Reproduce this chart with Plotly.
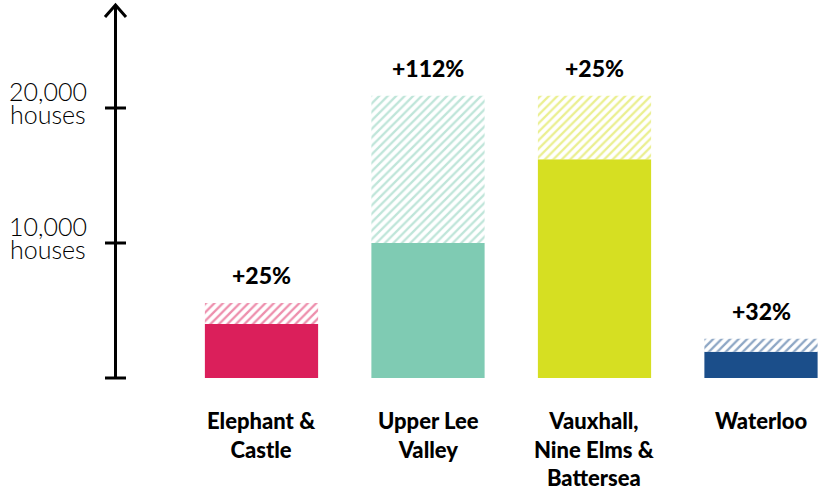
import plotly.graph_objects as go

# ---- data ----
categories = ["Elephant &<br>Castle", "Upper Lee<br>Valley", "Vauxhall,<br>Nine Elms &<br>Battersea", "Waterloo"]
existing = [4000, 10000, 16200, 1950]
projected = [5550, 20900, 20900, 2900]
growth_labels = ["+25%", "+112%", "+25%", "+32%"]
colors = ["#DB1F5B", "#7FCBB3", "#D6DF22", "#1B4E8A"]
ytick_vals = [10000, 20000]
ytick_nums = ["10,000", "20,000"]
ytick_unit = "houses"

W, H = 824, 491
PX_PER_X = 166.5
X0_PX = 261.5
PX_PER_Y = 13.5 / 1000
Y0_PX = 378

def xd(px):
    return (px - X0_PX) / PX_PER_X

def yd(py):
    return (Y0_PX - py) / PX_PER_Y

xs = list(range(len(categories)))
increments = [p - e for p, e in zip(projected, existing)]

fig = go.Figure()
fig.add_trace(go.Bar(
    x=xs, y=existing, width=0.68,
    marker=dict(color=colors, line=dict(width=0)),
    hoverinfo="skip",
))
fig.add_trace(go.Bar(
    x=xs, y=increments, base=existing, width=0.68,
    marker=dict(color="white", line=dict(width=0),
                pattern=dict(shape="/", fgcolor=colors, bgcolor="white",
                             size=6, solidity=0.38, fillmode="overlay")),
    hoverinfo="skip",
))

shapes = []
ax_x = xd(115.5)
# axis line
shapes.append(dict(type="line", xref="x", yref="y", x0=ax_x, x1=ax_x,
                   y0=0, y1=yd(6), line=dict(color="black", width=3)))
# arrow head
shapes.append(dict(type="path", xref="x", yref="y",
                   path=f"M {xd(105)} {yd(17)} L {ax_x} {yd(5)} L {xd(126)} {yd(17)}",
                   line=dict(color="black", width=3)))
# ticks
for v in [0] + ytick_vals:
    shapes.append(dict(type="line", xref="x", yref="y", x0=xd(105), x1=xd(126),
                       y0=v, y1=v, line=dict(color="black", width=3)))

annotations = []
for v, num in zip(ytick_vals, ytick_nums):
    annotations.append(dict(x=xd(48), y=v, xref="x", yref="y", text=num,
                            showarrow=False, yshift=17, xanchor="center", yanchor="middle",
                            font=dict(family="Lato", size=25, color="black", weight=300)))
    annotations.append(dict(x=xd(48), y=v, xref="x", yref="y", text=ytick_unit,
                            showarrow=False, yshift=-6, xanchor="center", yanchor="middle",
                            font=dict(family="Lato", size=25, color="black", weight=300)))

for i, (p, lab) in enumerate(zip(projected, growth_labels)):
    annotations.append(dict(x=i, y=p, xref="x", yref="y", text=lab, showarrow=False,
                            yshift=28, xanchor="center", yanchor="middle",
                            font=dict(family="Lato", size=23, color="black", weight=900)))

for i, c in enumerate(categories):
    annotations.append(dict(x=i, y=yd(405), xref="x", yref="y", text=c, showarrow=False,
                            xanchor="center", yanchor="top", align="center",
                            font=dict(family="Lato", size=22, color="black", weight=900)))

fig.update_layout(
    width=W, height=H,
    margin=dict(l=0, r=0, t=0, b=0),
    paper_bgcolor="white", plot_bgcolor="white",
    barmode="overlay",
    showlegend=False,
    xaxis=dict(range=[xd(0), xd(W)], visible=False, fixedrange=True),
    yaxis=dict(range=[yd(H), yd(0)], visible=False, fixedrange=True),
    shapes=shapes,
    annotations=annotations,
)

fig.write_html("out.html", config={"displayModeBar": False},
               post_script="document.body.style.margin='0';document.body.style.overflow='hidden';")
